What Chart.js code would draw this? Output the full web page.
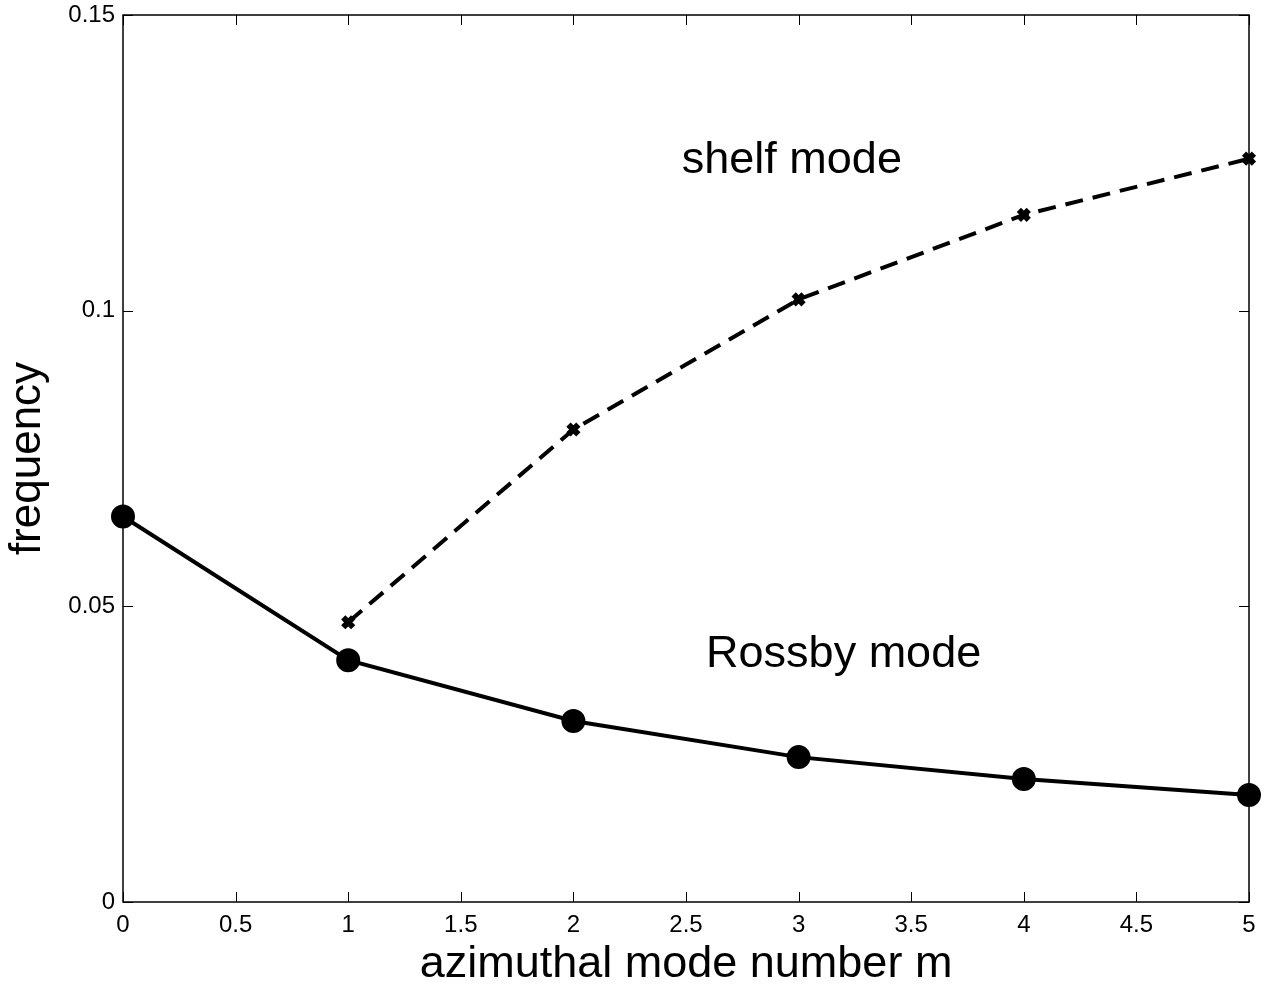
<!DOCTYPE html>
<html>
<head>
<meta charset="utf-8">
<script src="https://cdn.jsdelivr.net/npm/chart.js@4/dist/chart.umd.min.js"></script>
<style>
  html, body { margin: 0; padding: 0; background: #fff; }
  #wrap { width: 1270px; height: 987px; }
</style>
</head>
<body>
<div id="wrap"><canvas id="chart" width="1270" height="987"></canvas></div>
<script>
// values
const modeNumbers = [0, 1, 2, 3, 4, 5];
const rossbyFreq = [0.0652, 0.0409, 0.0306, 0.0245, 0.0208, 0.0181];
const shelfModes = [1, 2, 3, 4, 5];
const shelfFreq = [0.0473, 0.0799, 0.1019, 0.1162, 0.1257];
const xTicks = [0, 0.5, 1, 1.5, 2, 2.5, 3, 3.5, 4, 4.5, 5];
const yTicks = [0, 0.05, 0.1, 0.15];
const notes = [
  { text: 'shelf mode', x: 2.97, y: 0.1253 },
  { text: 'Rossby mode', x: 3.2, y: 0.0418 }
];

const FONT = 'Liberation Sans, Arial, sans-serif';

// box round the axes with inward ticks on all four sides
const boxPlugin = {
  id: 'box',
  afterDatasetsDraw(chart) {
    const { ctx, chartArea: a, scales } = chart;
    ctx.save();
    ctx.strokeStyle = '#000';
    ctx.lineWidth = 1.5;
    ctx.strokeRect(a.left, a.top, a.right - a.left, a.bottom - a.top);
    ctx.lineWidth = 1;
    const len = 10;
    ctx.beginPath();
    xTicks.forEach(v => {
      const px = Math.round(scales.x.getPixelForValue(v)) + 0.5;
      ctx.moveTo(px, a.bottom); ctx.lineTo(px, a.bottom - len);
      ctx.moveTo(px, a.top); ctx.lineTo(px, a.top + len);
    });
    yTicks.forEach(v => {
      const py = Math.round(scales.y.getPixelForValue(v)) + 0.5;
      ctx.moveTo(a.left, py); ctx.lineTo(a.left + len, py);
      ctx.moveTo(a.right, py); ctx.lineTo(a.right - len, py);
    });
    ctx.stroke();
    ctx.fillStyle = '#000';
    ctx.font = '45px ' + FONT;
    ctx.textAlign = 'center';
    ctx.textBaseline = 'middle';
    notes.forEach(n => {
      ctx.fillText(n.text, scales.x.getPixelForValue(n.x), scales.y.getPixelForValue(n.y));
    });
    ctx.restore();
  }
};

new Chart(document.getElementById('chart'), {
  type: 'scatter',
  data: {
    datasets: [
      {
        label: 'Rossby mode',
        data: modeNumbers.map((m, i) => ({ x: m, y: rossbyFreq[i] })),
        showLine: true,
        borderColor: '#000',
        backgroundColor: '#000',
        borderWidth: 4,
        pointStyle: 'circle',
        pointRadius: 10,
        pointBorderWidth: 4,
        pointBackgroundColor: '#000',
        pointBorderColor: '#000'
      },
      {
        label: 'shelf mode',
        data: shelfModes.map((m, i) => ({ x: m, y: shelfFreq[i] })),
        showLine: true,
        borderColor: '#000',
        borderWidth: 4,
        borderDash: [18, 10],
        pointStyle: 'crossRot',
        pointRadius: 7,
        pointBorderWidth: 6,
        pointBorderColor: '#000'
      }
    ]
  },
  options: {
    responsive: false,
    animation: false,
    clip: false,
    layout: { padding: { top: 15, right: 21, left: 0, bottom: 0 } },
    plugins: { legend: { display: false }, tooltip: { enabled: false } },
    scales: {
      x: {
        type: 'linear',
        min: 0, max: 5,
        afterBuildTicks: s => { s.ticks = xTicks.map(v => ({ value: v })); },
        afterFit: s => { s.height = 85; s.paddingLeft = 0; s.paddingRight = 0; },
        grid: { display: false, drawTicks: false },
        border: { display: false },
        ticks: { color: '#000', font: { family: FONT, size: 24 }, padding: 9, maxRotation: 0,
                 callback: v => String(v) },
        title: { display: true, text: 'azimuthal mode number m', color: '#000',
                 font: { family: FONT, size: 45, lineHeight: 1.0 }, padding: { top: 0, bottom: 0 } }
      },
      y: {
        min: 0, max: 0.15,
        afterBuildTicks: s => { s.ticks = yTicks.map(v => ({ value: v })); },
        afterFit: s => { s.width = 123; s.paddingTop = 0; s.paddingBottom = 0; },
        grid: { display: false, drawTicks: false },
        border: { display: false },
        ticks: { color: '#000', font: { family: FONT, size: 24 }, padding: 8,
                 callback: v => String(v) },
        title: { display: true, text: 'frequency', color: '#000',
                 font: { family: FONT, size: 44, lineHeight: 1.0 }, padding: { top: 6, bottom: 0 } }
      }
    }
  },
  plugins: [boxPlugin]
});
</script>
</body>
</html>
